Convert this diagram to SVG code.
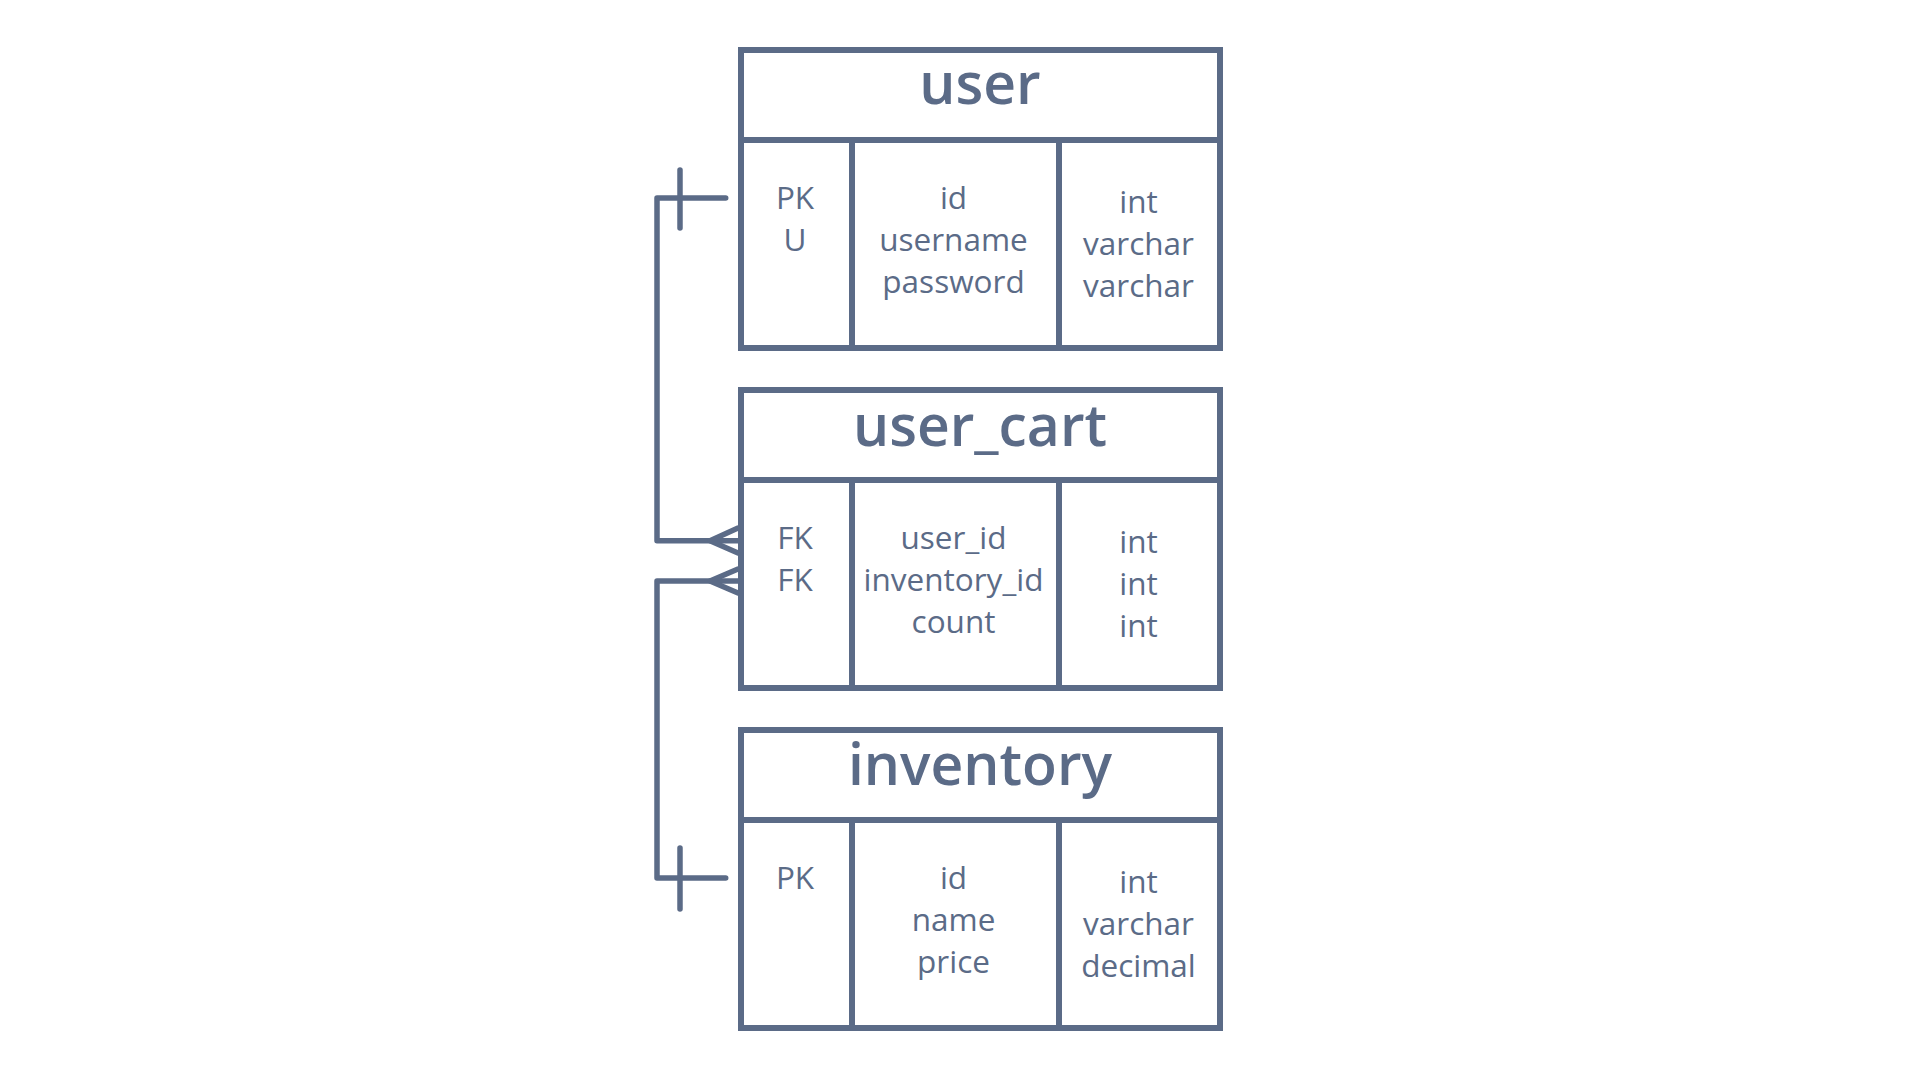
<svg xmlns="http://www.w3.org/2000/svg" width="1920" height="1080" viewBox="0 0 1920 1080">
<style>
.box{fill:#ffffff;stroke:#5b6b87;stroke-width:6}
.ln{fill:none;stroke:#5b6b87;stroke-width:6}
.title{font-family:"Open Sans","Noto Sans",sans-serif;font-weight:600;font-size:57px;fill:#5b6b87;text-anchor:middle}
.txt{font-family:"Open Sans","Noto Sans",sans-serif;font-size:31.5px;fill:#5b6b87;text-anchor:middle}
.conn{fill:none;stroke:#5b6b87;stroke-width:5.5;stroke-linecap:round;stroke-linejoin:round}
</style>
<rect width="1920" height="1080" fill="#ffffff"/>
<g id="user">
<rect class="box" x="741" y="50" width="479" height="298"/>
<line class="ln" x1="741" y1="140" x2="1220" y2="140"/>
<line class="ln" x1="852" y1="140" x2="852" y2="348"/>
<line class="ln" x1="1059" y1="140" x2="1059" y2="348"/>
<text class="title" x="980" y="103.5">user</text>
<text class="txt" x="795" y="209.3">PK</text>
<text class="txt" x="795" y="251">U</text>
<text class="txt" x="953.5" y="209.3">id</text>
<text class="txt" x="953.5" y="251">username</text>
<text class="txt" x="953.5" y="293">password</text>
<text class="txt" x="1138.5" y="213">int</text>
<text class="txt" x="1138.5" y="255">varchar</text>
<text class="txt" x="1138.5" y="297">varchar</text>
</g>
<g id="user_cart">
<rect class="box" x="741" y="390" width="479" height="298"/>
<line class="ln" x1="741" y1="480" x2="1220" y2="480"/>
<line class="ln" x1="852" y1="480" x2="852" y2="688"/>
<line class="ln" x1="1059" y1="480" x2="1059" y2="688"/>
<text class="title" x="980" y="446">user_cart</text>
<text class="txt" x="795" y="549.3">FK</text>
<text class="txt" x="795" y="591">FK</text>
<text class="txt" x="953.5" y="549.3">user_id</text>
<text class="txt" x="953.5" y="591">inventory_id</text>
<text class="txt" x="953.5" y="633">count</text>
<text class="txt" x="1138.5" y="553">int</text>
<text class="txt" x="1138.5" y="595">int</text>
<text class="txt" x="1138.5" y="637">int</text>
</g>
<g id="inventory">
<rect class="box" x="741" y="730" width="479" height="298"/>
<line class="ln" x1="741" y1="820" x2="1220" y2="820"/>
<line class="ln" x1="852" y1="820" x2="852" y2="1028"/>
<line class="ln" x1="1059" y1="820" x2="1059" y2="1028"/>
<text class="title" x="980" y="785">inventory</text>
<text class="txt" x="795" y="889.3">PK</text>
<text class="txt" x="953.5" y="889.3">id</text>
<text class="txt" x="953.5" y="931">name</text>
<text class="txt" x="953.5" y="973">price</text>
<text class="txt" x="1138.5" y="893">int</text>
<text class="txt" x="1138.5" y="935">varchar</text>
<text class="txt" x="1138.5" y="977">decimal</text>
</g>
<g id="connectors">
<path class="conn" d="M725.7 198 H657 V540.7 H738"/>
<path class="conn" d="M680 170 V228"/>
<path class="conn" d="M738 528 L710 540.7 L738 553"/>
<path class="conn" d="M725.7 878 H657 V581 H738"/>
<path class="conn" d="M680 848 V909"/>
<path class="conn" d="M738 569 L710 581 L738 593"/>
</g>
</svg>
